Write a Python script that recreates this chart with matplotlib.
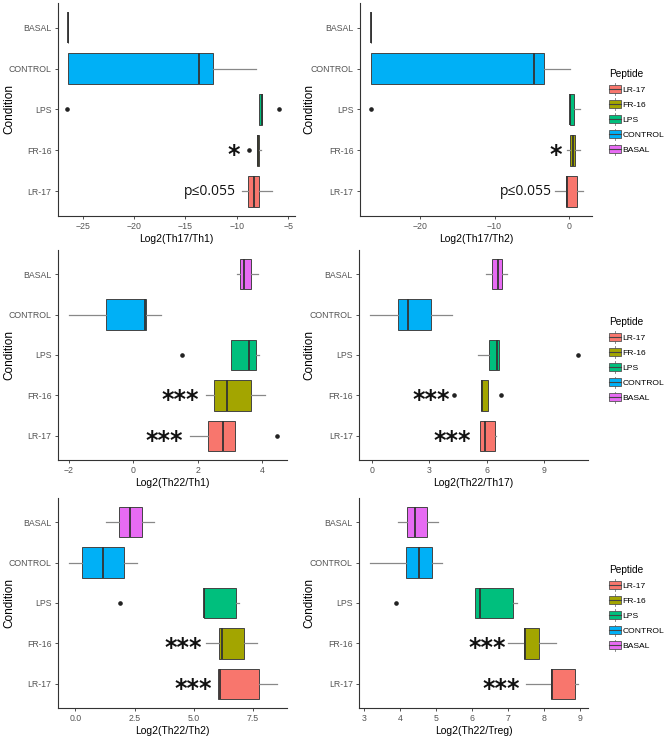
import matplotlib
matplotlib.use("Agg")
import matplotlib.pyplot as plt
from matplotlib.patches import Patch, Rectangle
from matplotlib.lines import Line2D
from matplotlib.legend_handler import HandlerBase

plt.rcParams['font.family'] = ['Liberation Sans', 'DejaVu Sans']

# bottom -> top on the y axis
conditions = ["LR-17", "FR-16", "LPS", "CONTROL", "BASAL"]
colors = ["#F8766D", "#A3A500", "#00BF7D", "#00B0F6", "#E76BF3"]

# each row: whisker low, q1, median, q3, whisker high  (same order as conditions)
th17_th1 = [[-9.52, -8.93, -8.32, -7.84, -6.61],
            [-8.06, -8.06, -7.95, -7.81, -7.65],
            [-7.87, -7.87, -7.60, -7.52, -7.52],
            [-26.47, -26.47, -13.68, -12.33, -8.13],
            [-26.45, -26.45, -26.45, -26.45, -26.45]]
th17_th1_out = [[], [-8.87], [-26.5, -5.87], [], []]

th17_th2 = [[-1.84, -0.40, -0.27, 1.07, 1.88],
            [-0.27, 0.08, 0.48, 0.75, 1.43],
            [0.08, 0.08, 0.10, 0.71, 1.43],
            [-26.6, -26.6, -4.67, -3.40, 0.17],
            [-26.6, -26.6, -26.6, -26.6, -26.6]]
th17_th2_out = [[], [], [-26.6], [], []]

th22_th1 = [[1.77, 2.33, 2.78, 3.14, 3.14],
            [2.27, 2.49, 2.92, 3.66, 4.08],
            [3.02, 3.02, 3.59, 3.80, 3.90],
            [-2.01, -0.86, 0.37, 0.38, 0.87],
            [3.23, 3.32, 3.43, 3.64, 3.87]]
th22_th1_out = [[4.47], [], [1.52], [], []]

th22_th17 = [[5.63, 5.63, 5.91, 6.45, 6.50],
             [5.70, 5.70, 5.77, 6.05, 6.05],
             [5.56, 6.12, 6.54, 6.65, 6.65],
             [-0.12, 1.38, 1.88, 3.09, 4.17],
             [5.98, 6.30, 6.59, 6.82, 7.06]]
th22_th17_out = [[], [4.29, 6.73], [10.8], [], []]

th22_th2 = [[6.02, 6.02, 6.12, 7.75, 8.51],
            [5.53, 6.06, 6.19, 7.10, 7.68],
            [5.41, 5.41, 5.42, 6.77, 6.91],
            [-0.28, 0.28, 1.17, 2.05, 2.62],
            [1.31, 1.83, 2.32, 2.83, 3.31]]
th22_th2_out = [[], [], [1.90], [], []]

th22_treg = [[7.48, 8.18, 8.22, 8.86, 8.94],
             [7.00, 7.44, 7.46, 7.86, 8.32],
             [6.09, 6.09, 6.21, 7.14, 7.25],
             [3.17, 4.16, 4.52, 4.90, 5.18],
             [3.94, 4.20, 4.43, 4.76, 5.05]]
th22_treg_out = [[], [], [3.89], [], []]

# significance marks: (condition index, text, x)
th17_th1_marks = [(0, "p≤0.055", -10.07), (1, "*", -10.26)]
th17_th2_marks = [(0, "p≤0.055", -2.3), (1, "*", -1.8)]
th22_th1_marks = [(0, "***", 0.95), (1, "***", 1.44)]
th22_th17_marks = [(0, "***", 4.2), (1, "***", 3.1)]
th22_th2_marks = [(0, "***", 4.96), (1, "***", 4.54)]
th22_treg_marks = [(0, "***", 6.82), (1, "***", 6.42)]

panels = [
    ("Log2(Th17/Th1)", th17_th1, th17_th1_out, th17_th1_marks, [-25, -20, -15, -10, -5], (-27.4, -4.35)),
    ("Log2(Th17/Th2)", th17_th2, th17_th2_out, th17_th2_marks, [-20, -10, 0], (-28.1, 3.1)),
    ("Log2(Th22/Th1)", th22_th1, th22_th1_out, th22_th1_marks, [-2, 0, 2, 4], (-2.34, 4.77)),
    ("Log2(Th22/Th17)", th22_th17, th22_th17_out, th22_th17_marks, [0, 3, 6, 9], (-0.68, 11.3)),
    ("Log2(Th22/Th2)", th22_th2, th22_th2_out, th22_th2_marks, [0, 2.5, 5, 7.5], (-0.73, 8.93)),
    ("Log2(Th22/Treg)", th22_treg, th22_treg_out, th22_treg_marks, [3, 4, 5, 6, 7, 8, 9], (2.87, 9.21)),
]

# panel boxes in pixels: x0, x1, ytop, ybottom
boxes_px = [(58, 295, 3, 216), (360, 592, 3, 216),
            (58, 287, 250, 460), (359, 588, 250, 460),
            (58, 287, 498, 708), (359, 588, 498, 708)]

W, H = 666, 737
fig = plt.figure(figsize=(W / 100, H / 100), dpi=100)


class BoxKey(HandlerBase):
    def create_artists(self, legend, orig_handle, xdescent, ydescent,
                       width, height, fontsize, trans):
        x0, y0 = -xdescent, -ydescent
        whisk = Line2D([x0 + width / 2] * 2, [y0 - height * 0.25, y0 + height * 1.25],
                       color="#777777", lw=0.6, transform=trans)
        rect = Rectangle((x0, y0), width, height, facecolor=orig_handle.get_facecolor(),
                         edgecolor="#555555", lw=0.6, transform=trans)
        med = Line2D([x0, x0 + width], [y0 + height / 2] * 2,
                     color="#444444", lw=0.8, transform=trans)
        return [whisk, rect, med]


for i, (title, stats_rows, outs, marks, ticks, xlim) in enumerate(panels):
    x0, x1, yt, yb = boxes_px[i]
    ax = fig.add_axes([x0 / W, 1 - yb / H, (x1 - x0) / W, (yb - yt) / H])

    stats = []
    for row, fl in zip(stats_rows, outs):
        stats.append(dict(whislo=row[0], q1=row[1], med=row[2], q3=row[3],
                          whishi=row[4], fliers=fl))
    bp = ax.bxp(stats, positions=range(1, 6), widths=0.75, orientation='horizontal',
                patch_artist=True, showcaps=False,
                boxprops=dict(edgecolor="#444444", lw=0.7),
                whiskerprops=dict(color="#888888", lw=0.9),
                medianprops=dict(color="#333333", lw=1.3),
                flierprops=dict(marker='o', markersize=2.3, markerfacecolor='#222222',
                                markeredgecolor='#222222'))
    for patch, c in zip(bp['boxes'], colors):
        patch.set_facecolor(c)

    for ci, txt, xv in marks:
        if txt.startswith("p"):
            ax.text(xv, ci + 1, txt, ha='right', va='center', fontsize=10,
                    family=['Open Sans', 'DejaVu Sans'], color='#111111')
        else:
            ax.text(xv, ci + 1 - 0.12, txt, ha='center', va='center', fontsize=17,
                    family='DejaVu Sans', fontweight='bold', color='#111111')

    ax.set_xlim(*xlim)
    ax.set_ylim(0.4, 5.6)
    ax.set_xticks(ticks)
    if title == "Log2(Th22/Th2)":
        ax.set_xticklabels([f"{t:.1f}" for t in ticks])
    ax.set_yticks(range(1, 6))
    ax.set_yticklabels(conditions)
    ax.set_xlabel(title, fontsize=7.5, labelpad=2)
    ax.set_ylabel("Condition", fontsize=8.5)
    # anchor is the right side of the rotated label
    lab_x = 15 if i % 2 == 0 else 315
    ax.yaxis.set_label_coords((lab_x - x0) / (x1 - x0), 0.5)
    for s in ['top', 'right']:
        ax.spines[s].set_visible(False)
    for s in ['left', 'bottom']:
        ax.spines[s].set_color('#333333')
        ax.spines[s].set_linewidth(0.8)
    ax.tick_params(labelsize=6.3, colors='#333333', labelcolor='#555555', length=2.5,
                   width=0.6, pad=2)

    if i % 2 == 1:
        handles = [Patch(facecolor=c) for c in colors]
        leg_top = {1: 63, 3: 311, 5: 559}[i]
        leg = ax.legend(handles, conditions, title="Peptide", loc='upper left',
                        bbox_to_anchor=(603 / W, 1 - leg_top / H),
                        bbox_transform=fig.transFigure, frameon=False,
                        fontsize=6.1, title_fontsize=7.3, alignment='left',
                        handler_map={Patch: BoxKey()}, handlelength=1.4,
                        handleheight=1.0, labelspacing=0.75, handletextpad=0.2,
                        borderpad=0.2)

fig.savefig("out.png", dpi=100)
